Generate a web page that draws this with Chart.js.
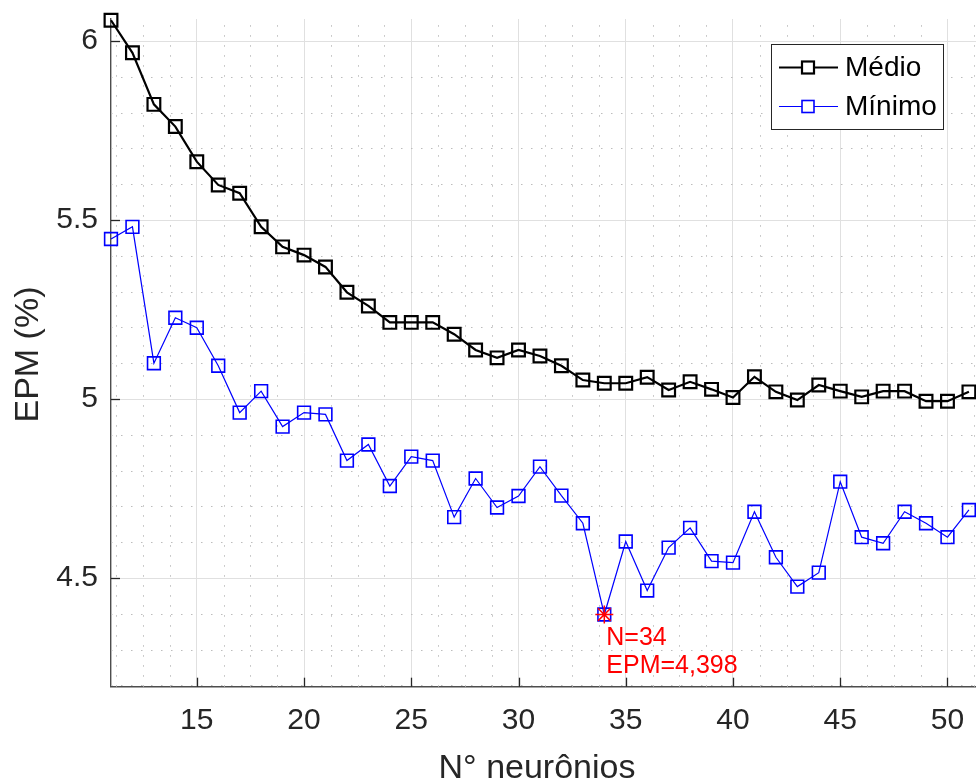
<!DOCTYPE html>
<html><head><meta charset="utf-8">
<script src="https://cdn.jsdelivr.net/npm/chart.js@4"></script>
<style>html,body{margin:0;padding:0;background:#fff}#wrap{width:976px;height:782px;position:relative}</style>
</head><body><div id="wrap"><canvas id="c" width="976" height="782"></canvas></div>
<script>
const neurons = [11,12,13,14,15,16,17,18,19,20,21,22,23,24,25,26,27,28,29,30,31,32,33,34,35,36,37,38,39,40,41,42,43,44,45,46,47,48,49,50,51];
const medio = [6.058,5.967,5.823,5.761,5.663,5.598,5.575,5.481,5.425,5.402,
               5.369,5.298,5.260,5.214,5.214,5.214,5.181,5.137,5.115,5.137,
               5.120,5.093,5.053,5.044,5.044,5.061,5.025,5.048,5.027,5.004,
               5.062,5.020,4.997,5.039,5.022,5.006,5.022,5.022,4.994,4.994,5.020];
const minimo = [5.447,5.481,5.100,5.227,5.199,5.093,4.962,5.022,4.923,4.962,
                4.957,4.828,4.873,4.757,4.839,4.828,4.670,4.778,4.697,4.729,
                4.811,4.730,4.653,4.398,4.602,4.465,4.585,4.640,4.547,4.543,
                4.685,4.558,4.476,4.515,4.769,4.614,4.597,4.685,4.653,4.614,4.690];
const bestN = [34];
const bestEPM = [4.398];
const seriesNames = ['Médio','Mínimo'];
const xTicks = [15,20,25,30,35,40,45,50];
const yTicks = [4.5,5,5.5,6];
const xTitle = 'N° neurônios';
const yTitle = 'EPM (%)';
const annotLines = ['N=' + bestN[0], 'EPM=' + String(bestEPM[0]).replace('.', ',')];

const FONT = '"Liberation Sans", Arial, Helvetica, sans-serif';
const toPts = (xs, ys) => xs.map((x, i) => ({x: x, y: ys[i]}));
const zeroPad = s => { s.paddingTop = 0; s.paddingBottom = 0; s.paddingLeft = 0; s.paddingRight = 0; };

const minorGrid = {
  id: 'minorGrid',
  beforeDatasetsDraw(chart) {
    const {ctx, chartArea: a, scales: {x, y}} = chart;
    ctx.save();
    ctx.strokeStyle = '#bdbdbd';
    ctx.lineWidth = 1;
    ctx.setLineDash([1.5, 8.5]);
    for (let k = Math.ceil(x.min / 1.25); k * 1.25 <= x.max; k++) {
      const v = k * 1.25;
      if (Math.abs(v / 5 - Math.round(v / 5)) < 1e-9) continue;
      const px = Math.round(x.getPixelForValue(v)) + 0.5;
      ctx.beginPath(); ctx.moveTo(px, a.bottom); ctx.lineTo(px, a.top); ctx.stroke();
    }
    for (let k = Math.ceil(y.min * 10 - 1e-9); k / 10 <= y.max; k++) {
      if (k % 5 === 0) continue;
      const py = Math.round(y.getPixelForValue(k / 10)) + 0.5;
      ctx.beginPath(); ctx.moveTo(a.left, py); ctx.lineTo(a.right, py); ctx.stroke();
    }
    ctx.setLineDash([]);
    ctx.strokeStyle = '#262626';
    ctx.lineWidth = 1.3;
    xTicks.forEach(v => {
      const px = Math.round(x.getPixelForValue(v)) + 0.5;
      ctx.beginPath(); ctx.moveTo(px, a.bottom); ctx.lineTo(px, a.bottom - 9); ctx.stroke();
    });
    yTicks.forEach(v => {
      const py = Math.round(y.getPixelForValue(v)) + 0.5;
      ctx.beginPath(); ctx.moveTo(a.left, py); ctx.lineTo(a.left + 9, py); ctx.stroke();
    });
    ctx.restore();
  },
  afterDraw(chart) {
    const {ctx, scales: {x, y}} = chart;
    ctx.save();
    ctx.fillStyle = '#262626';
    ctx.font = '34px ' + FONT;
    ctx.textAlign = 'center';
    ctx.textBaseline = 'alphabetic';
    ctx.fillText(xTitle, 537, 778);
    ctx.save();
    ctx.translate(38, 354.5);
    ctx.rotate(-Math.PI / 2);
    ctx.fillText(yTitle, 0, 0);
    ctx.restore();
    ctx.fillStyle = '#ff0000';
    ctx.font = '25px ' + FONT;
    ctx.textAlign = 'left';
    const ax = x.getPixelForValue(bestN[0]) + 2;
    const ay = y.getPixelForValue(bestEPM[0]);
    ctx.fillText(annotLines[0], ax, ay + 30);
    ctx.fillText(annotLines[1], ax, ay + 58.5);
    const lx = 771.5, ly = 44.5, lw = 172, lh = 85;
    ctx.fillStyle = '#ffffff';
    ctx.fillRect(lx, ly, lw, lh);
    ctx.strokeStyle = '#262626';
    ctx.lineWidth = 1;
    ctx.strokeRect(lx, ly, lw, lh);
    const rows = [
      {name: seriesNames[0], color: '#000000', lw: 2.2, mlw: 2.2, cy: 67.5},
      {name: seriesNames[1], color: '#0000ff', lw: 1.2, mlw: 1.6, cy: 106.5}
    ];
    rows.forEach(r => {
      ctx.strokeStyle = r.color;
      ctx.lineWidth = r.lw;
      ctx.beginPath(); ctx.moveTo(779, r.cy); ctx.lineTo(838, r.cy); ctx.stroke();
      ctx.lineWidth = r.mlw;
      ctx.fillStyle = '#ffffff';
      ctx.fillRect(802, r.cy - 6, 12, 12);
      ctx.strokeRect(802, r.cy - 6, 12, 12);
      ctx.fillStyle = '#000000';
      ctx.font = '28px ' + FONT;
      ctx.textBaseline = 'middle';
      ctx.fillText(r.name, 845, r.cy + 1);
    });
    ctx.restore();
  }
};

new Chart(document.getElementById('c'), {
  type: 'line',
  data: {
    datasets: [
      {
        label: seriesNames[0],
        data: toPts(neurons, medio),
        borderColor: '#000000', borderWidth: 2.2,
        pointStyle: 'rect', pointRadius: 9,
        pointBorderColor: '#000000', pointBorderWidth: 2.2,
        pointBackgroundColor: 'rgba(0,0,0,0)',
        tension: 0, clip: false, order: 2
      },
      {
        label: seriesNames[1],
        data: toPts(neurons, minimo),
        borderColor: '#0000ff', borderWidth: 1.2,
        pointStyle: 'rect', pointRadius: 9,
        pointBorderColor: '#0000ff', pointBorderWidth: 1.6,
        pointBackgroundColor: 'rgba(0,0,0,0)',
        tension: 0, clip: false, order: 1
      },
      {
        label: 'min',
        data: toPts(bestN, bestEPM),
        showLine: false,
        pointStyle: 'star', pointRadius: 9,
        pointBorderColor: '#ff0000', pointBorderWidth: 1.5,
        pointBackgroundColor: '#ff0000',
        clip: false, order: 0
      }
    ]
  },
  options: {
    responsive: false, animation: false, devicePixelRatio: 1,
    layout: {autoPadding: false, padding: {top: 19, left: 0, right: 0, bottom: 0}},
    plugins: {legend: {display: false}, tooltip: {enabled: false}},
    scales: {
      x: {
        type: 'linear', min: 11, max: 51.33,
        afterBuildTicks: s => { s.ticks = xTicks.map(v => ({value: v})); },
        afterFit: s => { s.height = 95.3; zeroPad(s); },
        grid: {color: '#e0e0e0', lineWidth: 1, drawTicks: false},
        border: {color: '#4d4d4d', width: 1.4},
        ticks: {font: {family: FONT, size: 30}, color: '#262626', padding: 16,
                maxRotation: 0, autoSkip: false, callback: v => String(v)}
      },
      y: {
        type: 'linear', min: 4.1964, max: 6.0615,
        afterBuildTicks: s => { s.ticks = yTicks.map(v => ({value: v})); },
        afterFit: s => { s.width = 111; zeroPad(s); },
        grid: {color: '#e0e0e0', lineWidth: 1, drawTicks: false},
        border: {color: '#4d4d4d', width: 1.4},
        ticks: {font: {family: FONT, size: 30}, color: '#262626', padding: 13,
                autoSkip: false, callback: v => String(v)}
      }
    }
  },
  plugins: [minorGrid]
});
</script>
</body></html>
